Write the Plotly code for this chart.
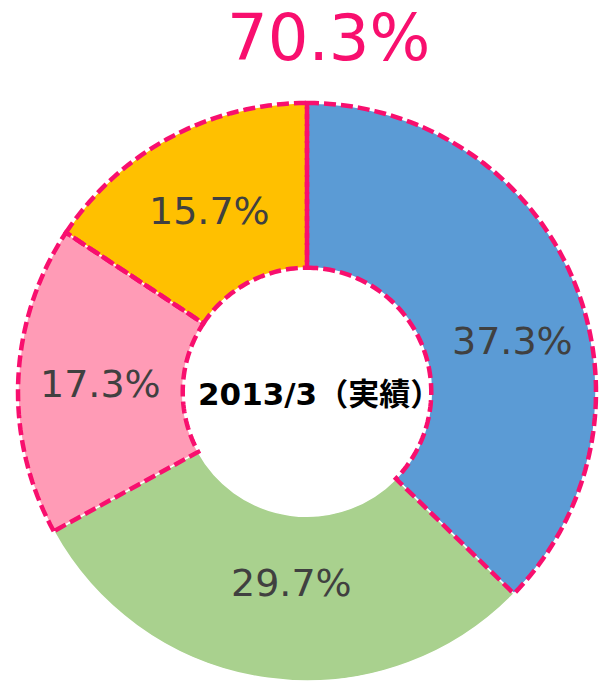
import math
import plotly.graph_objects as go

# ---- data ----
categories = ["区分A", "区分B", "区分C", "区分D"]
values = [37.3, 29.7, 17.3, 15.7]
highlighted = [True, False, True, True]
center_label = "2013/3（実績）"

# ---- style ----
slice_colors = ["#5B9BD5", "#A9D18E", "#FF9BB6", "#FFC000"]
accent = "#F80F6E"
W, H = 603, 681
CX, CY, R = 307, 392, 289
HOLE = 0.43
# label placement tweaks (angle offset in degrees, radius in px) per slice
label_angle_shift = [9, -3, 0, 0]
label_radius = [212, 192, 207, 205]

total_hl = sum(v for v, h in zip(values, highlighted) if h)

fig = go.Figure()
fig.add_trace(go.Pie(
    labels=categories,
    values=values,
    sort=False,
    direction="clockwise",
    rotation=0,
    hole=HOLE,
    marker=dict(colors=slice_colors, line=dict(color="white", width=1.5)),
    textinfo="none",
    domain=dict(x=[(CX - R) / W, (CX + R) / W], y=[(H - CY - R) / H, (H - CY + R) / H]),
    showlegend=False,
    hoverinfo="label+value",
))


def to_px(theta_deg, r):
    t = math.radians(theta_deg)
    return CX + r * math.sin(t), CY - r * math.cos(t)


def to_paper(theta_deg, r):
    x, y = to_px(theta_deg, r)
    return x / W, 1 - y / H


shapes = []
annotations = []
tot = sum(values)
cum = 0.0
r_in = R * HOLE
for i, (v, h) in enumerate(zip(values, highlighted)):
    a0 = cum / tot * 360
    a1 = (cum + v) / tot * 360
    cum += v
    mid = (a0 + a1) / 2 + label_angle_shift[i]
    lx, ly = to_paper(mid, label_radius[i])
    annotations.append(dict(text=f"{v}%", x=lx, y=ly, xref="paper", yref="paper",
                            showarrow=False, xanchor="center", yanchor="middle",
                            font=dict(size=38, color="#404040", family="DejaVu Sans")))
    if not h:
        continue
    n = max(8, int((a1 - a0) / 1.5))
    pts = [to_paper(a0 + (a1 - a0) * k / n, R) for k in range(n + 1)]
    pts += [to_paper(a1 - (a1 - a0) * k / n, r_in) for k in range(n + 1)]
    path = "M " + " L ".join(f"{x:.5f},{y:.5f}" for x, y in pts) + " Z"
    shapes.append(dict(type="path", path=path, xref="paper", yref="paper",
                       layer="above",
                       line=dict(color=accent, width=4.5, dash="12px,5px")))

annotations += [
    dict(text=f"{total_hl:.1f}%", x=328 / W, y=1 - 38 / H, xref="paper", yref="paper",
         showarrow=False, xanchor="center", yanchor="middle",
         font=dict(size=64, color=accent, family="DejaVu Sans")),
    dict(text=f"<b>{center_label}</b>", x=319 / W, y=1 - 394 / H, xref="paper", yref="paper",
         showarrow=False, xanchor="center", yanchor="middle",
         font=dict(size=31, color="black", family="DejaVu Sans, Noto Sans CJK JP")),
]

fig.update_layout(
    width=W, height=H,
    margin=dict(l=0, r=0, t=0, b=0),
    paper_bgcolor="white",
    plot_bgcolor="white",
    shapes=shapes,
    annotations=annotations,
)

fig.write_html("out.html", config={"displayModeBar": False},
               post_script="document.body.style.margin='0';document.body.style.overflow='hidden';")
